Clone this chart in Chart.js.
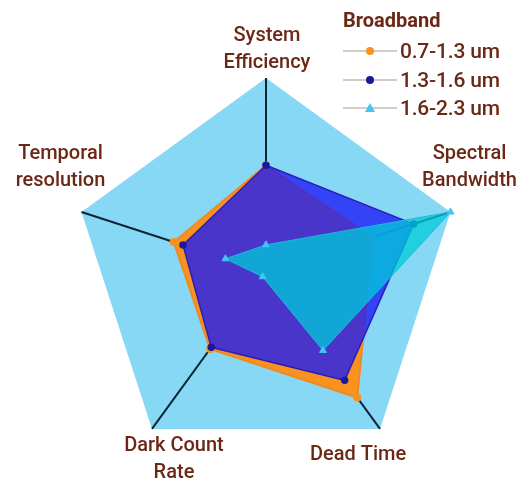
<!DOCTYPE html>
<html>
<head>
<meta charset="utf-8">
<script src="https://cdn.jsdelivr.net/npm/chart.js@4.4.0/dist/chart.umd.min.js"></script>
<style>
  html, body { margin: 0; padding: 0; background: #fff; }
  #wrap { position: relative; width: 523px; height: 479px; }
  #legend {
    position: absolute; left: 343px; top: 6px;
    font-family: Roboto, "Noto Sans", sans-serif; color: #6b2816;
  }
  #legend .title { font-weight: 700; font-size: 20px; height: 31px; line-height: 28px; }
  #legend .item { display: flex; align-items: center; height: 28.5px; font-size: 21px; font-weight: 500; letter-spacing: -0.2px; }
  #legend .mark { position: relative; width: 54px; height: 12px; margin-right: 3px; }
  #legend .mark .ln { position: absolute; left: 0; right: 0; top: 5px; height: 2px; background: #d2cbc6; }
  #legend .mark .dot { position: absolute; left: 23px; top: 2px; width: 8px; height: 8px; border-radius: 50%; }
  #legend .mark .tri { position: absolute; left: 22px; top: 1px; width: 0; height: 0;
    border-left: 5px solid transparent; border-right: 5px solid transparent; border-bottom: 9px solid #45c3f2; }
</style>
</head>
<body>
<div id="wrap">
  <canvas id="cv_radar" width="523" height="479"></canvas>
  <div id="legend"></div>
</div>
<script>
const axisLabels = [
  ['System', 'Efficiency'],
  ['Spectral', 'Bandwidth'],
  ['Dead Time'],
  ['Dark Count', 'Rate'],
  ['Temporal', 'resolution']
];
const legendTitle = 'Broadband';
const seriesNames = ['0.7-1.3 um', '1.3-1.6 um', '1.6-2.3 um'];
const band_07_13 = [5.5, 5.8, 8.0, 4.9, 5.0];
const band_13_16 = [5.5, 8.0, 6.9, 4.8, 4.5];
const band_16_23 = [1.4, 10, 5.0, 0.3, 2.2];
const scaleMax = 10;

// where each axis name sits, relative to its outer vertex
const labelOffsets = [[1, -37], [19, -53], [-22, 31], [22, 22], [-21, -53]];
const labelLineHeight = 27;

const pointLabelsPlugin = {
  id: 'pointLabelsPlugin',
  afterDraw(chart) {
    const scale = chart.scales.r;
    const ctx = chart.ctx;
    ctx.save();
    ctx.font = '500 20px Roboto, "Noto Sans", sans-serif';
    ctx.fillStyle = '#6b2816';
    ctx.textAlign = 'center';
    ctx.textBaseline = 'alphabetic';
    axisLabels.forEach((lines, i) => {
      const p = scale.getPointPositionForValue(i, scaleMax);
      lines.forEach((txt, j) => {
        ctx.fillText(txt, p.x + labelOffsets[i][0], p.y + labelOffsets[i][1] + j * labelLineHeight);
      });
    });
    ctx.restore();
  }
};

const ctx = document.getElementById('cv_radar').getContext('2d');
const radar = new Chart(ctx, {
  type: 'radar',
  data: {
    labels: axisLabels,
    datasets: [
      {
        label: seriesNames[0],
        data: band_07_13,
        order: 2,
        fill: true,
        backgroundColor: '#f7931e',
        borderColor: '#f5871f',
        borderWidth: 2,
        pointBackgroundColor: '#f7931e',
        pointBorderColor: '#f7931e',
        pointRadius: 3
      },
      {
        label: seriesNames[1],
        data: band_13_16,
        order: 1,
        fill: true,
        backgroundColor: 'rgba(30,30,245,0.8)',
        borderColor: '#2b1fb8',
        borderWidth: 1.5,
        pointBackgroundColor: '#1a1a9a',
        pointBorderColor: '#1a1a9a',
        pointRadius: 3
      },
      {
        label: seriesNames[2],
        data: band_16_23,
        order: 0,
        fill: true,
        backgroundColor: 'rgba(0,204,218,0.75)',
        borderColor: '#1ab8e0',
        borderWidth: 1,
        pointStyle: 'triangle',
        pointBackgroundColor: '#45c3f2',
        pointBorderColor: '#45c3f2',
        pointRadius: 4
      }
    ]
  },
  options: {
    responsive: false,
    animation: false,
    layout: { padding: { top: 78, bottom: 13, left: 72, right: 63 } },
    plugins: {
      legend: { display: false },
      tooltip: { enabled: false }
    },
    scales: {
      r: {
        min: 0,
        max: scaleMax,
        backgroundColor: '#86d8f5',
        ticks: { display: false },
        grid: { display: false },
        pointLabels: { display: false },
        angleLines: { display: true, color: '#0b2535', lineWidth: 2 }
      }
    }
  },
  plugins: [pointLabelsPlugin]
});

// legend: line with the series marker in the middle
const legendEl = document.getElementById('legend');
const markColors = ['#f7931e', '#1a1a9a', '#45c3f2'];
let html = '<div class="title">' + legendTitle + '</div>';
seriesNames.forEach((name, i) => {
  const marker = i === 2
    ? '<span class="tri"></span>'
    : '<span class="dot" style="background:' + markColors[i] + '"></span>';
  html += '<div class="item"><span class="mark"><span class="ln"></span>' + marker + '</span>' + name + '</div>';
});
legendEl.innerHTML = html;
</script>
</body>
</html>
